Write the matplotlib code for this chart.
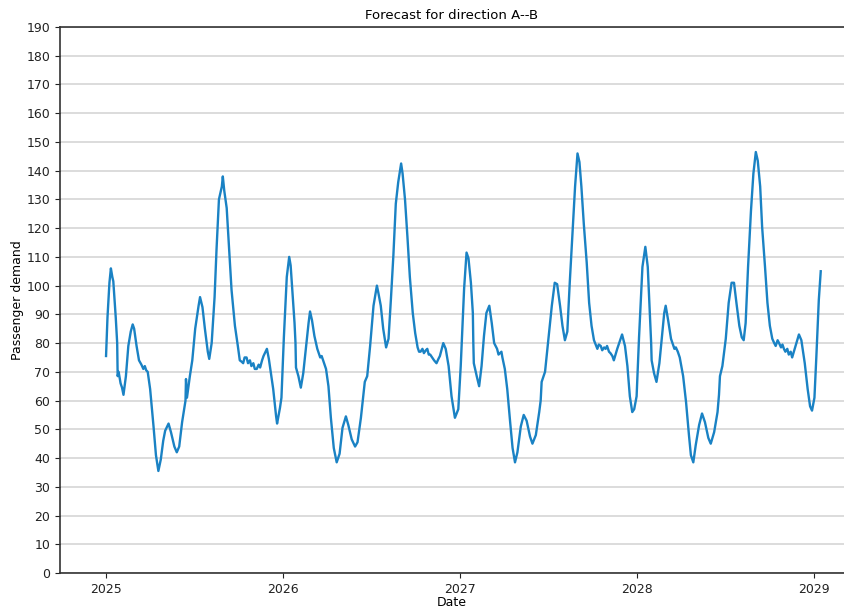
import numpy as np
import matplotlib
matplotlib.use("Agg")
import matplotlib.pyplot as plt
import matplotlib.dates as mdates

# Day offsets from 2025-01-01 and passenger demand
days = [0, 3, 7, 10, 13, 15, 20, 23, 24, 26, 30, 33, 36, 41, 46, 51, 55, 58, 63, 68, 73, 77, 80, 83, 86,
        91, 98, 103, 108, 113, 118, 122, 129, 134, 141, 146, 151, 157, 162, 164, 165, 167, 173, 178, 184,
        191, 194, 199, 204, 210, 213, 218, 224, 228, 233, 239, 241, 244, 249, 254, 259, 266, 272, 276, 280,
        283, 286, 290, 293, 297, 300, 304, 307, 311, 315, 318, 322, 325, 332, 336,
        345, 351, 353, 359, 362, 367, 373, 378, 381, 385, 389, 391, 392, 397, 402, 407, 413, 418, 421,
        425, 430, 436, 442, 445, 448, 454, 459, 464, 470, 476, 482, 488, 495, 500, 507, 514, 519, 526,
        534, 539, 545, 552, 559, 562, 567, 572, 578, 583, 588, 593, 598, 603, 609, 612, 617, 622, 627,
        633, 638, 643, 646, 649, 653, 656, 660, 663, 666, 669, 673, 677, 682, 686, 689, 696, 701, 707,
        713, 720, 727, 732, 739, 744, 748, 753, 757, 758, 759, 765, 770, 775, 780, 785, 791, 796, 801,
        807, 810, 813, 816, 818, 823, 828, 834, 839, 844, 849, 856, 862, 868, 875, 880, 887, 894, 897,
        899, 906, 913, 920, 926, 931, 937, 942, 947, 952, 957, 963, 968, 973, 977, 981, 986, 992, 997,
        1002, 1007, 1014, 1017, 1021, 1024, 1028, 1031, 1034, 1038, 1041, 1045, 1048, 1055, 1061, 1065, 1071,
        1076, 1081, 1086, 1090, 1095, 1100, 1107, 1113, 1118, 1122, 1125, 1126, 1131, 1136, 1142, 1148,
        1152, 1155, 1160, 1166, 1173, 1176, 1180, 1184, 1191, 1197, 1203, 1207, 1212, 1217, 1224, 1230,
        1236, 1243, 1248, 1255, 1262, 1265, 1267, 1272, 1279, 1285, 1291, 1296, 1301, 1307, 1312, 1316,
        1320, 1325, 1331, 1336, 1341, 1345, 1350, 1354, 1360, 1365, 1370, 1375, 1379, 1382, 1386, 1389,
        1393, 1396, 1399, 1402, 1406, 1409, 1413, 1416, 1423, 1430, 1435, 1442, 1448, 1453, 1457, 1462,
        1466, 1471, 1475]
demand = [75.5, 89, 101, 106, 103, 101.5, 89, 80, 68.5, 70, 66, 64.5, 62, 68.5, 79, 84, 86.5, 85, 79, 74, 72.5, 71, 72, 70.5, 70,
          64, 51, 41, 35.5, 39.5, 46, 49.5, 52, 49, 44, 42, 44, 52.5, 58, 60, 67.5, 61, 68.5, 74, 85,
          93, 96, 92.5, 85, 77, 74.5, 80, 96, 112.5, 130, 134.5, 138, 133, 127, 112.5, 98.5, 86, 79, 74, 73.5,
          73, 75, 75, 73, 74, 72, 73, 71, 71, 72.5, 71.5, 74, 75.5, 78, 74.5,
          64, 54.5, 52, 57.5, 61, 82, 103, 110, 107, 97, 87, 80, 71.5, 68.5, 64.5, 69.5, 79, 87, 91,
          88, 82.5, 78, 75, 75.5, 74, 71, 65, 54, 43.5, 38.5, 41.5, 50.5, 54.5, 51.5, 46.5, 44, 45.5, 54,
          66.5, 68.5, 79, 93, 100, 97.5, 93, 85, 78.5, 81.5, 95.5, 110.5, 128.5, 136, 142.5, 139, 130, 117, 103,
          90.5, 83.5, 78.5, 77, 77, 78, 76.5, 77.5, 78, 76, 76, 75, 74, 73, 74.5, 75.5, 80, 78, 72,
          61.5, 54, 57, 72, 99, 111.5, 109.5, 101, 90.5, 80, 73, 68.5, 65, 72, 82.5, 90.5, 93, 87, 80,
          78, 76, 76.5, 77, 75, 71, 64, 52.5, 43.5, 38.5, 42, 51, 55, 53, 47.5, 45, 48, 56, 60,
          66.5, 70, 81.5, 93, 101, 100.5, 93, 86, 81, 84, 101, 119.5, 134.5, 146, 143, 134.5, 121.5, 108, 94,
          86, 81, 78, 79.5, 79, 77.5, 78.5, 78, 79, 77, 76.5, 75.5, 74, 78, 81, 83, 79,
          72, 61.5, 56, 57, 61.5, 82, 106.5, 113.5, 106.5, 91.5, 80, 74, 69.5, 66.5, 73, 83.5,
          90.5, 93, 88, 81.5, 78, 78.5, 77, 75, 68.5, 59.5, 48, 41, 38.5, 44.5, 51.5, 55.5,
          52.5, 47, 45, 49, 56, 62, 68.5, 72, 81.5, 94, 101, 101, 94, 86, 82, 81,
          87, 106.5, 126, 139, 146.5, 143.5, 134.5, 120.5, 106.5, 94, 86, 81.5, 80, 79, 81, 80,
          78.5, 79.5, 78, 77, 78, 76, 77, 75, 79, 83, 81, 73, 64, 58, 56.5, 61,
          75.5, 95, 105]

title_text = "Forecast for direction A--B"
x_label = "Date"
y_label = "Passenger demand"
y_ticks = list(range(0, 191, 10))
x_tick_years = [2025, 2026, 2027, 2028, 2029]

start = np.datetime64("2025-01-01")
dates = start + np.array(days).astype("timedelta64[D]")

fig = plt.figure(figsize=(8.44, 6.08), dpi=100)
ax = fig.add_axes([0.0711, 0.0576, 0.9289, 0.898])

ax.plot(dates, demand, color="#1a82c4", linewidth=1.7)

ax.set_ylim(0, 190)
ax.set_yticks(y_ticks)
ax.set_xlim(np.datetime64("2024-09-28"), np.datetime64("2029-03-04"))
ax.set_xticks([np.datetime64(f"{y}-01-01") for y in x_tick_years])
ax.xaxis.set_major_formatter(mdates.DateFormatter("%Y"))

ax.grid(axis="y", color="#d9d9d9", linewidth=1.3)
ax.set_axisbelow(True)
ax.spines["right"].set_visible(False)
for s in ["left", "bottom", "top"]:
    ax.spines[s].set_color("#333333")
    ax.spines[s].set_linewidth(1.2)

ax.tick_params(labelsize=9, colors="#222222")
ax.set_title(title_text, fontsize=9.5, pad=6)
ax.set_xlabel(x_label, fontsize=9, labelpad=0)
ax.set_ylabel(y_label, fontsize=9, labelpad=2)

fig.savefig("out.png", dpi=100)
